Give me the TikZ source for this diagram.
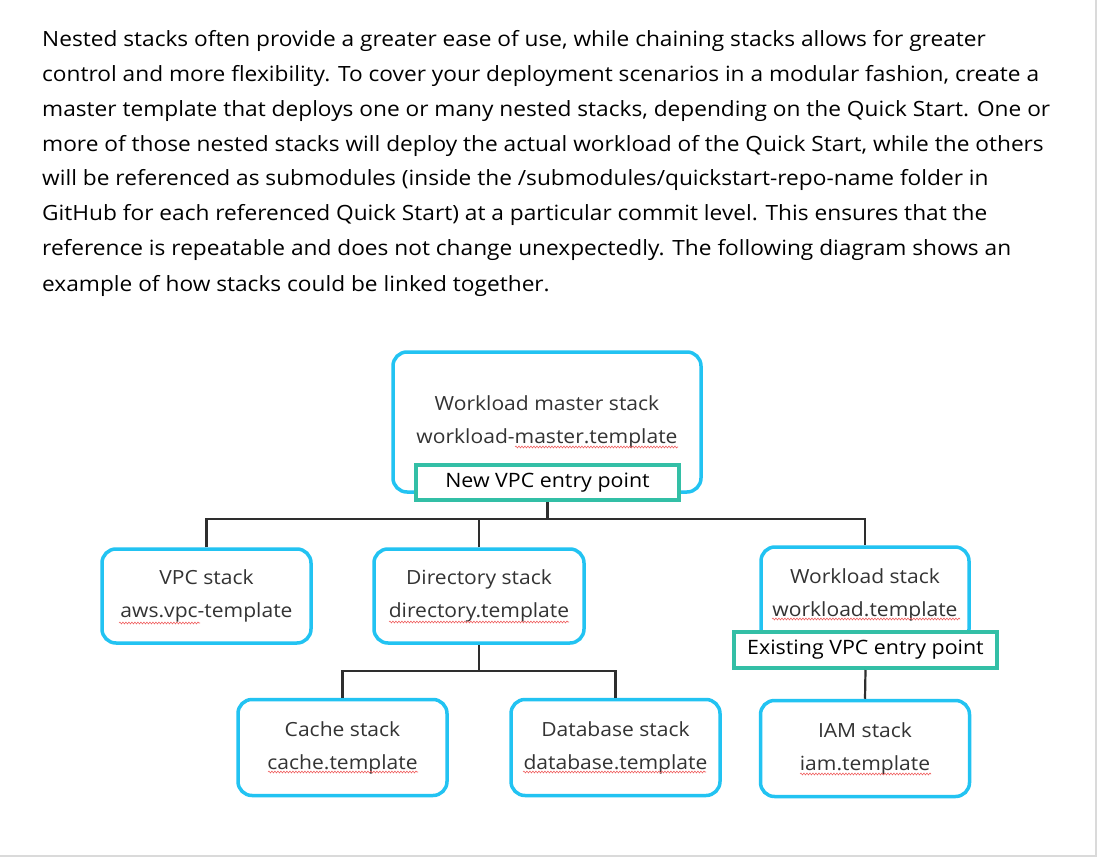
\documentclass[tikz,border=0pt]{standalone}
\usepackage{fontspec}
\setmainfont{Open Sans}[FakeStretch=1.08]
\usetikzlibrary{decorations.pathmorphing}
\definecolor{boxcyan}{HTML}{22C3F2}
\definecolor{entryteal}{HTML}{33BFA6}
\definecolor{conncol}{HTML}{2E2E2E}
\definecolor{labelcol}{HTML}{333333}
\definecolor{spellred}{HTML}{F06060}
\definecolor{edgegrey}{HTML}{DADADA}
\tikzset{
  para/.style={anchor=base west, inner sep=0pt, font=\fontsize{21}{24}\selectfont, text=black},
  stackbox/.style={draw=boxcyan, line width=3.5pt, rounded corners=14pt, fill=white,
    align=center, text=labelcol, font=\fontsize{19.5}{33}\selectfont, inner sep=0pt},
  entrybox/.style={draw=entryteal, line width=4pt, fill=white, text=black,
    font=\fontsize{19.8}{22}\selectfont, inner sep=0pt, minimum width=263pt, minimum height=35pt},
  conn/.style={draw=conncol, line width=2.2pt},
  spell/.style={draw=spellred, line width=0.6pt, decorate,
    decoration={snake, segment length=3pt, amplitude=0.9pt}}
}
\begin{document}
\begin{tikzpicture}[x=1pt,y=-1pt]
\path[use as bounding box, fill=white] (0,0) rectangle (1099,858);
\draw[edgegrey, line width=2pt] (1096,0) -- (1096,856) -- (0,856);

% paragraph
\node[para] (p1) at (42,47) {Nested stacks often provide a greater ease of use, while chaining stacks allows for greater};
\node[para] (p2) at (42,82) {control and more flexibility. To cover your deployment scenarios in a modular fashion, create a};
\node[para] (p3) at (42,117) {master template that deploys one or many nested stacks, depending on the Quick Start. One or};
\node[para] (p4) at (42,152) {more of those nested stacks will deploy the actual workload of the Quick Start, while the others};
\node[para] (p5) at (42,186) {will be referenced as submodules (inside the /submodules/quickstart-repo-name folder in};
\node[para] (p6) at (42,221) {GitHub for each referenced Quick Start) at a particular commit level. This ensures that the};
\node[para] (p7) at (42,256) {reference is repeatable and does not change unexpectedly. The following diagram shows an};
\node[para] (p8) at (42,291) {example of how stacks could be linked together.};

% boxes
\node[stackbox, minimum width=308pt, minimum height=140pt] (master) at (547,422)
  {Workload master stack\\workload-master.template};
\node[entrybox] (newvpc) at (547.5,482.5) {New VPC entry point};

\node[stackbox, minimum width=209pt, minimum height=94pt] (vpc) at (206.5,596)
  {VPC stack\\aws.vpc-template};
\node[stackbox, minimum width=210pt, minimum height=94pt] (dir) at (479,596)
  {Directory stack\\directory.template};
\node[stackbox, minimum width=208pt, minimum height=96pt] (wl) at (865,595)
  {Workload stack\\workload.template};
\node[entrybox, minimum height=36pt] (exvpc) at (865.5,650) {Existing VPC entry point};

\node[stackbox, minimum width=209pt, minimum height=96pt] (cache) at (342.5,747.5)
  {Cache stack\\cache.template};
\node[stackbox, minimum width=209pt, minimum height=96pt] (db) at (615.5,747.5)
  {Database stack\\database.template};
\node[stackbox, minimum width=209pt, minimum height=96pt] (iam) at (865,748.5)
  {IAM stack\\iam.template};

% connectors
\coordinate (bus) at (0,519);
\coordinate (bus2) at (0,671);
\draw[conn] (newvpc.south) -- (newvpc.south |- bus);
\draw[conn] (vpc.north) -- (vpc.north |- bus) -- (wl.north |- bus) -- (wl.north);
\draw[conn] (dir.north) -- (dir.north |- bus);
\draw[conn] (dir.south) -- (dir.south |- bus2);
\draw[conn] (cache.north) -- (cache.north |- bus2) -- (db.north |- bus2) -- (db.north);
\draw[conn] (exvpc.south) -- (iam.north);

% spell-check underlines
\draw[spell] (515,447) -- (678,447);
\draw[spell] (119,623) -- (200,623);
\draw[spell] (389,622) -- (569,622);
\draw[spell] (772,619) -- (960,619);
\draw[spell] (268,772) -- (418,772);
\draw[spell] (523,772) -- (706,772);
\draw[spell] (800,774) -- (931,774);
\end{tikzpicture}
\end{document}
